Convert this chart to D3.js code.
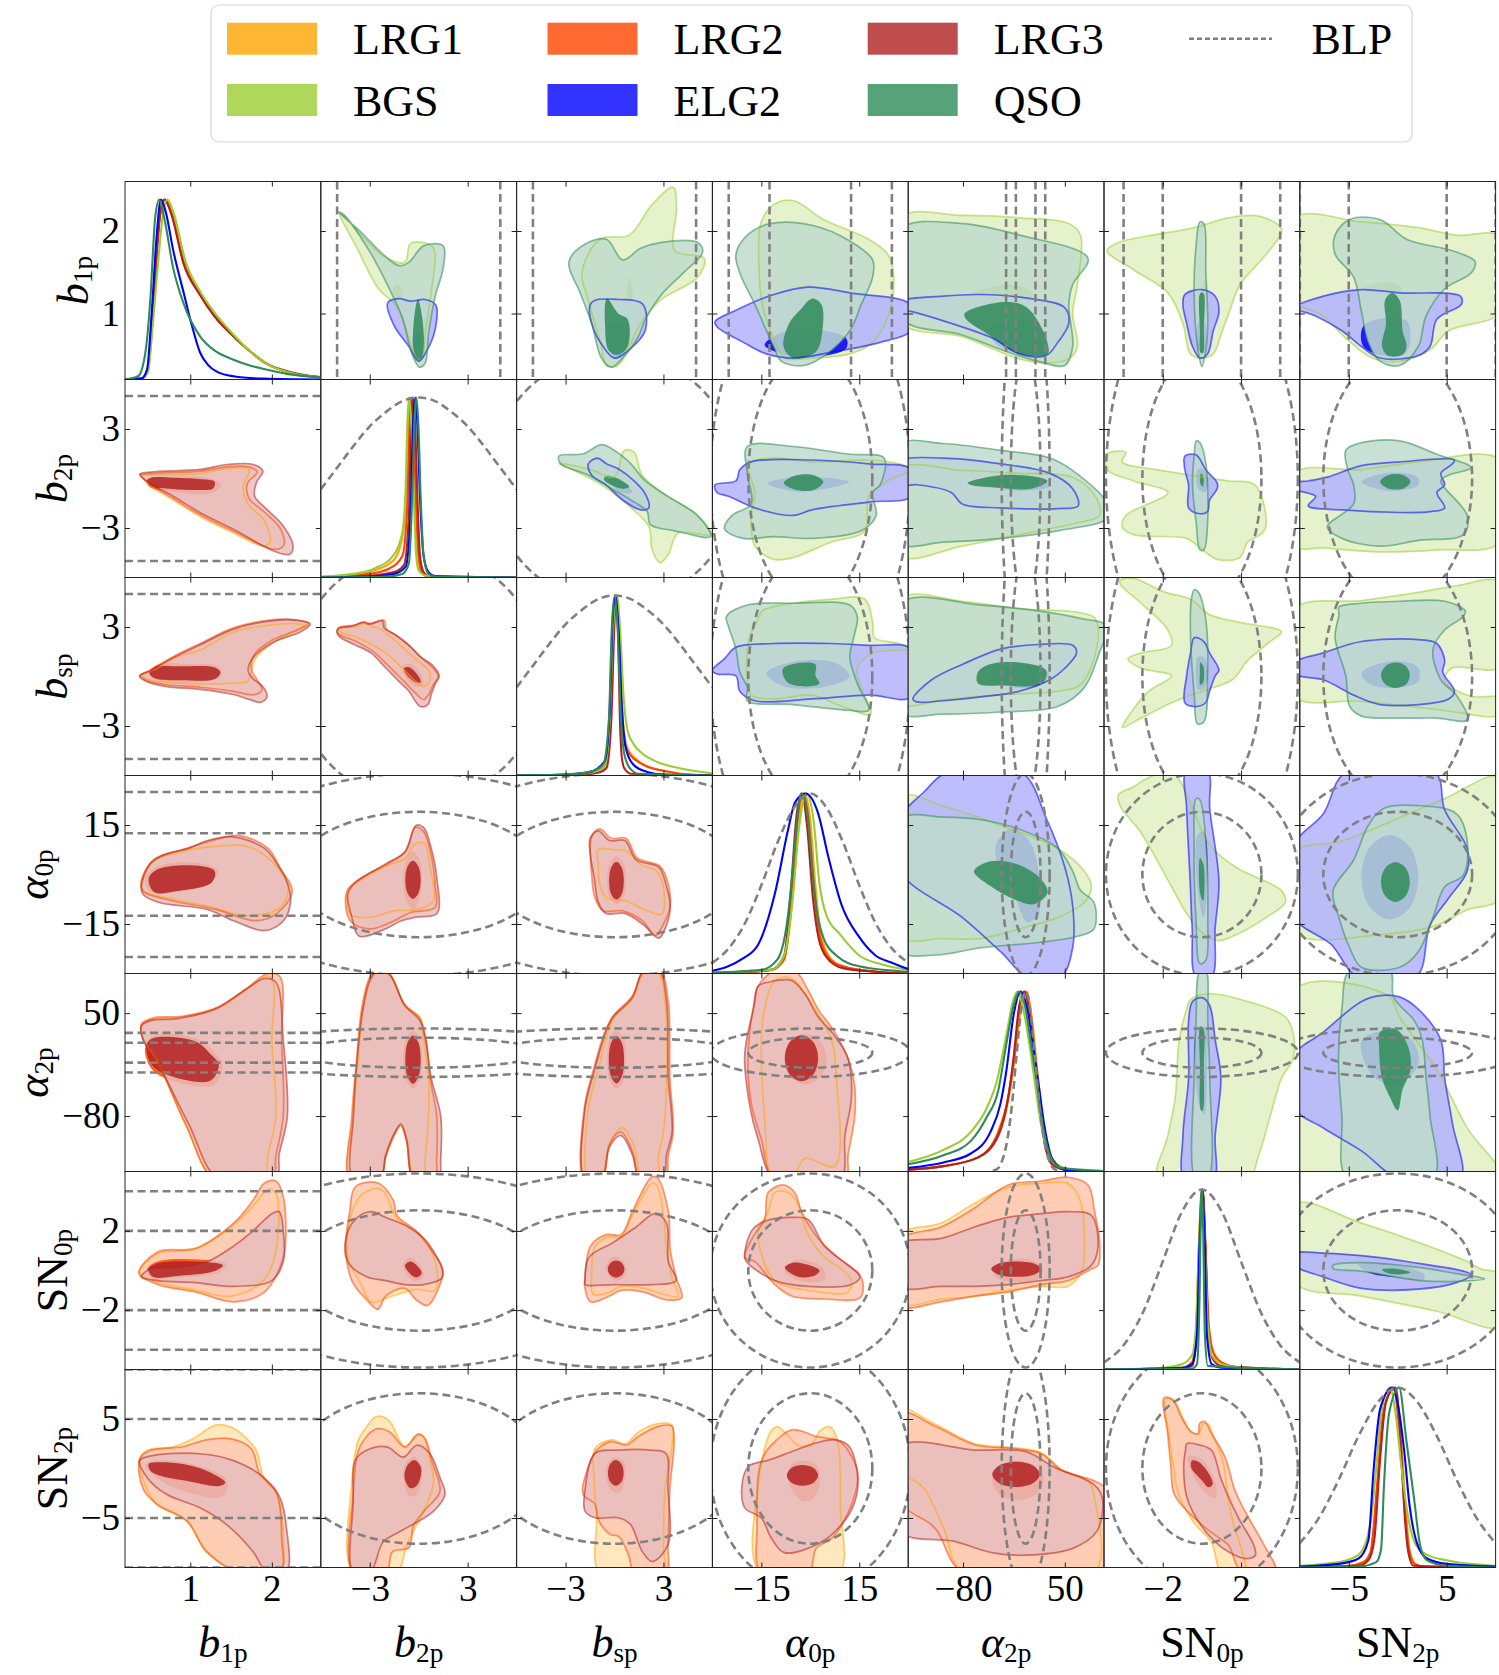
<!DOCTYPE html>
<html>
<head>
<meta charset="utf-8">
<title>BLP corner plot</title>
<script src="https://d3js.org/d3.v7.min.js"></script>
<style>
  body { margin: 0; background: #fff; }
  text { font-family: "Liberation Serif", "DejaVu Serif", serif; fill: #000; }
</style>
</head>
<body>
<svg id="corner" width="1499" height="1675"></svg>
<script>
// ---------- parameters, axes ----------
const params = ["b1p", "b2p", "bsp", "a0p", "a2p", "SN0p", "SN2p"];
const paramDomains = [[0.2, 2.6], [-6, 6], [-6, 6], [-30, 30], [-150, 100], [-5, 5], [-10, 10]];
const paramTicks = [[1, 2], [-3, 3], [-3, 3], [-15, 15], [-80, 50], [-2, 2], [-5, 5]];
const paramLabels = [
  {main: "b", italic: true, sub: "1p"}, {main: "b", italic: true, sub: "2p"}, {main: "b", italic: true, sub: "sp"},
  {main: "α", italic: true, sub: "0p"}, {main: "α", italic: true, sub: "2p"},
  {main: "SN", italic: false, sub: "0p"}, {main: "SN", italic: false, sub: "2p"}
];
// BLP prior (b1p is flat)
const priorMean = [null, 0, 0, 0, 0, 0, 0];
const priorSigma = [null, 5, 5, 12.5, 12.5, 2, 5];
const bandLevels = [1, 2];          // flat x gaussian: 68/95 bands in sigma
const ellipseLevels = [1.52, 2.45]; // gaussian x gaussian: 68/95 2D contours in sigma

const legendRow1 = ["LRG1", "LRG2", "LRG3", "BLP"];
const legendRow2 = ["BGS", "ELG2", "QSO"];

// ---------- 1D marginals (x, normalised density) ----------
const d_b1p = [
  {t: "LRG1", pts: [[0.2,0],[0.4,0.005],[0.47,0.05],[0.52,0.25],[0.57,0.6],[0.62,0.88],[0.7,1.0],[0.78,0.92],[0.92,0.66],[1.12,0.48],[1.3,0.36],[1.53,0.24],[1.75,0.15],[1.93,0.09],[2.2,0.04],[2.6,0.012]]},
  {t: "LRG2", pts: [[0.2,0],[0.4,0.005],[0.47,0.04],[0.53,0.3],[0.58,0.65],[0.63,0.92],[0.69,1.0],[0.77,0.92],[0.92,0.65],[1.12,0.47],[1.3,0.35],[1.53,0.24],[1.75,0.15],[1.93,0.09],[2.2,0.04],[2.6,0.012]]},
  {t: "LRG3", pts: [[0.2,0],[0.4,0.005],[0.48,0.05],[0.54,0.35],[0.59,0.7],[0.64,0.95],[0.68,1.0],[0.76,0.93],[0.92,0.64],[1.12,0.47],[1.3,0.35],[1.53,0.24],[1.75,0.15],[1.93,0.09],[2.2,0.045],[2.6,0.013]]},
  {t: "BGS", pts: [[0.2,0],[0.4,0.005],[0.48,0.04],[0.54,0.3],[0.6,0.62],[0.66,0.9],[0.72,1.0],[0.8,0.92],[0.94,0.66],[1.12,0.49],[1.3,0.37],[1.53,0.25],[1.75,0.15],[1.93,0.09],[2.2,0.04],[2.6,0.012]]},
  {t: "ELG2", pts: [[0.2,0],[0.4,0.005],[0.47,0.055],[0.53,0.39],[0.59,0.81],[0.64,1.0],[0.7,0.93],[0.79,0.72],[0.92,0.48],[1.02,0.3],[1.12,0.15],[1.22,0.08],[1.32,0.045],[1.53,0.018],[1.9,0.005],[2.6,0]]},
  {t: "QSO", pts: [[0.2,0],[0.36,0.018],[0.45,0.15],[0.51,0.44],[0.57,0.9],[0.62,1.0],[0.68,0.9],[0.79,0.62],[0.92,0.42],[1.12,0.24],[1.3,0.16],[1.53,0.11],[1.75,0.075],[1.93,0.055],[2.2,0.03],[2.6,0.012]]}
];
const d_b2p = [
  {t: "LRG1", pts: [[-6,0.002],[-4,0.01],[-2.7,0.04],[-1.5,0.1],[-0.95,0.25],[-0.75,0.5],[-0.62,0.85],[-0.52,1.0],[-0.38,0.85],[-0.22,0.45],[-0.05,0.12],[0.15,0.03],[0.6,0.005],[6,0]]},
  {t: "LRG2", pts: [[-6,0],[-3,0.02],[-1.8,0.05],[-1.0,0.12],[-0.7,0.4],[-0.55,0.85],[-0.45,1.0],[-0.32,0.85],[-0.18,0.45],[0,0.12],[0.2,0.03],[0.6,0.005],[6,0]]},
  {t: "LRG3", pts: [[-6,0],[-3,0.01],[-1.5,0.03],[-0.9,0.07],[-0.6,0.35],[-0.47,0.85],[-0.35,1.0],[-0.22,0.85],[-0.08,0.45],[0.08,0.12],[0.3,0.03],[0.7,0.005],[6,0]]},
  {t: "BGS", pts: [[-6,0.005],[-4,0.02],[-2.7,0.05],[-1.5,0.13],[-1.0,0.25],[-0.8,0.5],[-0.7,0.85],[-0.6,1.0],[-0.45,0.85],[-0.3,0.45],[-0.15,0.12],[0,0.04],[0.5,0.01],[6,0]]},
  {t: "ELG2", pts: [[-6,0],[-3,0.005],[-1.5,0.02],[-0.8,0.06],[-0.5,0.35],[-0.35,0.85],[-0.2,1.0],[-0.08,0.85],[0.08,0.45],[0.3,0.12],[0.6,0.03],[1,0.008],[6,0]]},
  {t: "QSO", pts: [[-6,0],[-2,0.005],[-1,0.02],[-0.6,0.08],[-0.38,0.5],[-0.25,0.9],[-0.14,1.0],[-0.02,0.85],[0.12,0.45],[0.3,0.12],[0.6,0.02],[1,0.005],[6,0]]}
];
const d_bsp = [
  {t: "LRG1", pts: [[-6,0],[-3,0.005],[-1.5,0.015],[-0.6,0.05],[-0.25,0.3],[-0.05,0.85],[0.12,1.0],[0.3,0.8],[0.45,0.4],[0.7,0.18],[1.0,0.12],[1.4,0.085],[2.0,0.05],[2.8,0.03],[4,0.01],[6,0]]},
  {t: "LRG2", pts: [[-6,0],[-3,0.005],[-1.5,0.015],[-0.6,0.05],[-0.25,0.3],[-0.05,0.85],[0.1,1.0],[0.28,0.8],[0.42,0.38],[0.65,0.17],[1.0,0.11],[1.4,0.08],[2.0,0.05],[2.8,0.03],[4,0.01],[6,0]]},
  {t: "LRG3", pts: [[-6,0],[-2,0.005],[-1,0.015],[-0.5,0.04],[-0.2,0.3],[0.0,0.85],[0.1,1.0],[0.22,0.8],[0.32,0.35],[0.45,0.1],[0.6,0.04],[1,0.01],[6,0]]},
  {t: "BGS", pts: [[-6,0],[-3,0.005],[-1.5,0.015],[-0.6,0.05],[-0.3,0.3],[-0.1,0.8],[0.15,1.0],[0.35,0.8],[0.55,0.45],[0.8,0.25],[1.2,0.17],[1.63,0.128],[2.5,0.08],[4,0.04],[6,0.012]]},
  {t: "ELG2", pts: [[-6,0],[-3,0.005],[-1.5,0.02],[-0.6,0.08],[-0.3,0.35],[-0.12,0.85],[0.05,1.0],[0.25,0.8],[0.45,0.38],[0.7,0.15],[1.16,0.06],[2,0.02],[3,0.005],[6,0]]},
  {t: "QSO", pts: [[-6,0],[-3,0.005],[-1.5,0.02],[-0.7,0.06],[-0.35,0.3],[-0.15,0.85],[0.02,1.0],[0.2,0.8],[0.38,0.35],[0.6,0.12],[0.95,0.04],[1.5,0.01],[6,0]]}
];
const d_a0p = [
  {t: "LRG1", pts: [[-30,0],[-12,0.02],[-8,0.08],[-5.5,0.4],[-3.5,0.85],[-1.8,1.0],[0,0.85],[1.5,0.5],[3,0.25],[6,0.09],[10,0.04],[20,0.01],[30,0]]},
  {t: "LRG2", pts: [[-30,0],[-12,0.02],[-8,0.08],[-5.5,0.45],[-3.8,0.88],[-2.2,1.0],[-0.5,0.85],[1.2,0.45],[2.8,0.22],[6,0.08],[10,0.04],[20,0.01],[30,0]]},
  {t: "LRG3", pts: [[-30,0],[-12,0.02],[-8,0.1],[-6,0.45],[-4.2,0.88],[-2.6,1.0],[-1,0.82],[0.8,0.42],[2.5,0.2],[5,0.09],[10,0.03],[20,0.01],[30,0]]},
  {t: "BGS", pts: [[-30,0.005],[-12,0.02],[-8,0.1],[-5.5,0.4],[-3.5,0.8],[-1.2,1.0],[1,0.85],[2.8,0.5],[5,0.32],[9,0.22],[15,0.1],[22,0.05],[30,0.02]]},
  {t: "ELG2", pts: [[-30,0.015],[-21,0.08],[-16,0.16],[-10.9,0.44],[-6.8,0.8],[-4.7,0.95],[-1.5,1.0],[2.4,0.89],[5.5,0.65],[9.6,0.38],[14.7,0.21],[20,0.1],[25,0.06],[30,0.025]]},
  {t: "QSO", pts: [[-30,0.005],[-15,0.02],[-10,0.08],[-7,0.3],[-5.5,0.55],[-4,0.85],[-2.8,1.0],[-1,0.9],[0.5,0.6],[2,0.35],[4,0.2],[8,0.1],[15,0.04],[30,0.01]]}
];
const d_a2p = [
  {t: "LRG1", pts: [[-150,0.01],[-105,0.03],[-60,0.08],[-35,0.2],[-22,0.4],[-15,0.6],[-7,0.88],[1,1.0],[8,0.85],[14,0.6],[20,0.35],[28,0.12],[38,0.03],[60,0.005],[100,0]]},
  {t: "LRG2", pts: [[-150,0.01],[-105,0.03],[-60,0.08],[-35,0.22],[-22,0.42],[-15,0.62],[-8,0.9],[-1,1.0],[6,0.87],[13,0.6],[19,0.35],[27,0.12],[37,0.03],[60,0.005],[100,0]]},
  {t: "LRG3", pts: [[-150,0.01],[-105,0.03],[-60,0.08],[-35,0.2],[-22,0.42],[-15,0.65],[-9,0.9],[-2,1.0],[5,0.87],[12,0.6],[18,0.35],[26,0.12],[36,0.03],[60,0.005],[100,0]]},
  {t: "BGS", pts: [[-150,0.053],[-105,0.12],[-70,0.22],[-50,0.35],[-37,0.5],[-25,0.75],[-16,0.95],[-10.5,1.0],[-3,0.9],[5,0.7],[11.5,0.5],[20,0.25],[30,0.1],[40,0.04],[60,0.01],[100,0.003]]},
  {t: "ELG2", pts: [[-150,0.02],[-105,0.05],[-70,0.1],[-45,0.22],[-32,0.38],[-25,0.55],[-15,0.88],[-6.6,1.0],[3,0.88],[10,0.68],[16,0.5],[24,0.25],[34,0.07],[50,0.01],[100,0]]},
  {t: "QSO", pts: [[-150,0.04],[-105,0.09],[-70,0.17],[-50,0.3],[-35,0.45],[-25,0.7],[-15,0.93],[-8.5,1.0],[0,0.9],[7,0.7],[14,0.5],[22,0.25],[32,0.08],[45,0.02],[100,0.003]]}
];
const d_SN0p = [
  {t: "LRG1", pts: [[-5,0],[-1,0.01],[-0.5,0.04],[-0.3,0.2],[-0.15,0.7],[0,1.0],[0.15,0.75],[0.3,0.3],[0.5,0.12],[1,0.04],[2,0.01],[5,0]]},
  {t: "LRG2", pts: [[-5,0],[-1,0.01],[-0.5,0.04],[-0.3,0.2],[-0.12,0.75],[0.03,1.0],[0.18,0.7],[0.35,0.25],[0.6,0.09],[1,0.04],[2,0.01],[5,0]]},
  {t: "LRG3", pts: [[-5,0],[-1,0.005],[-0.5,0.02],[-0.25,0.2],[-0.1,0.75],[0.05,1.0],[0.2,0.6],[0.35,0.15],[0.6,0.05],[1,0.02],[5,0]]},
  {t: "BGS", pts: [[-5,0],[-2,0.01],[-1,0.03],[-0.5,0.08],[-0.3,0.25],[-0.15,0.7],[0,1.0],[0.15,0.7],[0.3,0.25],[0.5,0.08],[1,0.03],[2,0.01],[5,0]]},
  {t: "ELG2", pts: [[-5,0],[-1,0.01],[-0.5,0.03],[-0.25,0.2],[-0.12,0.7],[0.02,1.0],[0.15,0.7],[0.25,0.2],[0.5,0.03],[1,0.01],[5,0]]},
  {t: "QSO", pts: [[-5,0],[-0.5,0.005],[-0.25,0.03],[-0.12,0.4],[-0.04,0.95],[0.0,1.0],[0.06,0.8],[0.15,0.2],[0.3,0.02],[5,0]]}
];
const d_SN2p = [
  {t: "LRG1", pts: [[-10,0],[-5,0.01],[-3.5,0.03],[-2.7,0.1],[-2.0,0.5],[-1.3,0.9],[-0.3,1.0],[0.3,0.75],[0.8,0.35],[1.2,0.1],[1.8,0.02],[3,0],[10,0]]},
  {t: "LRG2", pts: [[-10,0],[-5,0.01],[-3.5,0.03],[-2.8,0.08],[-2.1,0.46],[-1.5,0.85],[-0.45,1.0],[0.1,0.8],[0.66,0.37],[1.1,0.12],[1.7,0.02],[3,0],[10,0]]},
  {t: "LRG3", pts: [[-10,0],[-4,0.01],[-3,0.04],[-2.4,0.15],[-1.8,0.6],[-1.2,0.92],[-0.2,1.0],[0.3,0.7],[0.7,0.3],[1.1,0.08],[1.6,0.01],[10,0]]},
  {t: "BGS", pts: [[-10,0.01],[-6,0.03],[-4,0.07],[-2.8,0.24],[-2.2,0.55],[-1.7,0.85],[-0.8,1.0],[-0.2,0.85],[0.4,0.55],[1,0.3],[1.8,0.13],[3,0.07],[5,0.04],[10,0.01]]},
  {t: "ELG2", pts: [[-10,0.005],[-6,0.02],[-4,0.05],[-3,0.15],[-2.45,0.55],[-1.8,0.88],[-0.55,1.0],[0.1,0.88],[0.66,0.65],[1.2,0.35],[2,0.13],[3,0.05],[5,0.02],[10,0.005]]},
  {t: "QSO", pts: [[-10,0],[-4,0.005],[-2.2,0.03],[-1.7,0.1],[-1.4,0.46],[-0.9,0.85],[0.14,1.0],[0.9,0.7],[1.7,0.37],[2.3,0.12],[3,0.04],[5,0.01],[10,0]]}
];
// BLP prior marginals
const prior_b2p = [[-6,0.49],[-5,0.61],[-4,0.73],[-3,0.84],[-2,0.92],[-1,0.98],[0,1.0],[1,0.98],[2,0.92],[3,0.84],[4,0.73],[5,0.61],[6,0.49]];
const prior_bsp = [[-6,0.49],[-5,0.61],[-4,0.73],[-3,0.84],[-2,0.92],[-1,0.98],[0,1.0],[1,0.98],[2,0.92],[3,0.84],[4,0.73],[5,0.61],[6,0.49]];
const prior_a0p = [[-30,0.06],[-25,0.14],[-20,0.28],[-15,0.49],[-10,0.73],[-5,0.92],[0,1.0],[5,0.92],[10,0.73],[15,0.49],[20,0.28],[25,0.14],[30,0.06]];
const prior_a2p = [[-42,0.005],[-36,0.015],[-31,0.05],[-25,0.14],[-18,0.35],[-12,0.63],[-6,0.89],[0,1.0],[6,0.89],[12,0.63],[18,0.35],[25,0.14],[31,0.05],[36,0.015],[42,0.005]];
const prior_SN0p = [[-5,0.04],[-4,0.135],[-3,0.32],[-2,0.6],[-1,0.88],[0,1.0],[1,0.88],[2,0.6],[3,0.32],[4,0.135],[5,0.04]];
const prior_SN2p = [[-10,0.135],[-8,0.28],[-6,0.49],[-4,0.73],[-2,0.92],[0,1.0],[2,0.92],[4,0.73],[6,0.49],[8,0.28],[10,0.135]];

// ---------- 2D contours, lower triangle (LRG), [x, y] in parameter units ----------
const lo_b2p_b1p = [
  {t: "LRG1", outer: [[0.4,0.2],[0.55,0.2],[1.12,0.3],[1.45,0.6],[1.72,0.55],[1.65,-0.5],[1.7,-1.5],[1.9,-2.5],[1.98,-3.8],[1.9,-4.1],[1.53,-3.3],[1.12,-2.3],[0.79,-1.3],[0.5,-0.4]], inner: null},
  {t: "LRG2", outer: [[0.39,0.22],[0.52,0.3],[1.12,0.45],[1.45,0.7],[1.7,0.72],[1.82,0.4],[1.7,-0.3],[1.72,-1.2],[1.9,-2.0],[2.1,-3.0],[2.15,-4.0],[2.05,-4.3],[1.53,-3.2],[1.12,-2.2],[0.79,-1.2],[0.51,-0.35]],
   inner: [[0.47,-0.05],[0.8,0.1],[1.25,0.0],[1.38,-0.4],[1.25,-0.9],[0.8,-0.8],[0.5,-0.5]]},
  {t: "LRG3", outer: [[0.38,0.25],[0.51,0.39],[1.12,0.55],[1.45,0.85],[1.77,0.85],[1.89,0.45],[1.81,-0.25],[1.79,-1.07],[1.94,-1.87],[2.14,-2.88],[2.26,-4.09],[2.22,-4.59],[2.02,-4.39],[1.53,-3.08],[1.12,-2.07],[0.79,-1.07],[0.51,-0.3]],
   inner: [[0.47,-0.1],[0.52,0.05],[0.8,0.05],[1.15,-0.05],[1.3,-0.2],[1.28,-0.6],[1.1,-0.7],[0.7,-0.6],[0.5,-0.45]]}
];
const lo_bsp_b1p = [
  {t: "LRG1", outer: [[0.4,0.1],[0.55,0.4],[0.85,1.2],[1.12,1.6],[1.53,2.7],[1.94,3.1],[2.3,3.2],[2.4,3.1],[2.0,2.0],[1.8,1.1],[1.75,0.3],[1.7,-0.3],[1.53,-0.4],[1.12,-0.45],[0.71,-0.35],[0.47,-0.15]], inner: null},
  {t: "LRG2", outer: [[0.38,0.05],[0.51,0.4],[0.79,1.2],[1.12,2.0],[1.53,2.95],[1.94,3.4],[2.26,3.45],[2.45,3.2],[2.3,2.8],[2.0,2.2],[1.78,1.3],[1.75,0.4],[1.82,-0.2],[1.88,-0.8],[1.78,-1.1],[1.53,-0.9],[1.12,-0.65],[0.71,-0.5],[0.47,-0.25]],
   inner: [[0.5,0.2],[0.6,0.7],[1.0,0.75],[1.35,0.6],[1.38,0.0],[1.1,-0.35],[0.6,-0.2]]},
  {t: "LRG3", outer: [[0.38,0.02],[0.51,0.34],[0.79,1.13],[1.12,1.92],[1.53,2.87],[1.94,3.34],[2.26,3.43],[2.47,3.18],[2.35,2.7],[2.02,2.08],[1.77,1.13],[1.71,0.34],[1.77,-0.14],[1.89,-0.61],[1.94,-1.25],[1.86,-1.57],[1.73,-1.4],[1.53,-1.09],[1.12,-0.78],[0.71,-0.61],[0.47,-0.32]],
   inner: [[0.5,0.2],[0.56,0.55],[0.9,0.62],[1.3,0.55],[1.37,0.25],[1.3,-0.15],[0.9,-0.22],[0.56,-0.1]]}
];
const lo_bsp_b2p = [
  {t: "LRG1", outer: [[-4.9,2.85],[-4.6,2.95],[-3.9,3.0],[-3.3,3.2],[-2.9,3.05],[-2.4,2.9],[-1.7,2.4],[-0.8,1.6],[0.0,0.9],[0.5,0.5],[0.7,0.2],[0.6,-0.4],[0.3,-0.6],[-0.3,-0.2],[-1.0,0.5],[-2.0,1.4],[-3.0,2.0],[-4.0,2.45],[-4.7,2.65]], inner: null},
  {t: "LRG2", outer: [[-5.0,2.8],[-4.8,3.0],[-4.0,3.1],[-3.3,3.3],[-2.9,3.2],[-2.1,3.4],[-2.0,2.9],[-1.4,2.5],[-0.5,1.8],[0.2,1.1],[0.8,0.6],[1.2,0.0],[0.9,-0.5],[0.6,-1.1],[0.3,-1.4],[-0.2,-1.0],[-0.9,-0.3],[-1.8,0.6],[-2.9,1.6],[-4.0,2.2],[-4.8,2.5]],
   inner: [[-1.0,0.6],[-0.4,0.75],[0.15,0.1],[0.25,-0.55],[-0.2,-0.6],[-0.8,-0.05]]},
  {t: "LRG3", outer: [[-5.02,2.7],[-4.9,2.94],[-4.09,3.05],[-3.4,3.29],[-3.05,3.17],[-2.23,3.4],[-2.12,2.94],[-1.53,2.59],[-0.6,1.9],[0.1,1.2],[0.79,0.73],[1.26,0.04],[1.02,-0.43],[0.79,-1.01],[0.56,-1.7],[0.1,-1.82],[-0.6,-0.89],[-1.07,-0.43],[-2.0,0.5],[-2.93,1.43],[-3.86,1.9],[-4.79,2.35]],
   inner: [[-0.9,0.5],[-0.55,0.55],[0.0,0.0],[0.12,-0.35],[-0.2,-0.35],[-0.75,0.1]]}
];
const lo_a0p_b1p = [
  {t: "LRG1", outer: [[0.4,-2],[0.55,4],[0.9,7],[1.3,8.5],[1.7,8.5],[2.0,4],[2.2,-4],[2.1,-10],[1.7,-12.5],[1.2,-9.5],[0.7,-7],[0.42,-5]], inner: null},
  {t: "LRG2", outer: [[0.4,-2],[0.55,4.5],[0.9,7.5],[1.3,10.5],[1.6,11.8],[1.95,8],[2.1,2],[2.25,-5],[2.05,-12],[1.8,-14],[1.3,-10.5],[0.7,-7.5],[0.42,-5]],
   inner: [[0.45,-1],[0.6,2.5],[1.1,3.5],[1.35,1],[1.2,-3],[0.8,-5.5],[0.5,-5]]},
  {t: "LRG3", outer: [[0.4,-3.7],[0.51,3.3],[0.7,6.2],[0.98,7.9],[1.21,10.3],[1.53,11.4],[1.91,7.9],[2.09,2.2],[2.19,-2.5],[2.23,-8.3],[2.14,-14.1],[1.91,-17],[1.53,-14],[1.21,-10.6],[0.62,-8.5],[0.42,-6]],
   inner: [[0.49,-1.3],[0.6,1.6],[1.07,2.7],[1.3,1.0],[1.26,-2.5],[0.84,-5],[0.56,-5.4]]}
];
const lo_a0p_b2p = [
  {t: "LRG1", outer: [[-4.3,-5],[-3.5,-1.5],[-2,2.5],[-0.8,5],[-0.3,9],[0.35,9.5],[0.7,2],[0.9,-8],[0.0,-10.5],[-1.5,-11],[-3,-13],[-4.2,-12]], inner: null},
  {t: "LRG2", outer: [[-4.4,-5],[-3.5,-1],[-1.8,3.5],[-0.8,7],[-0.2,14.3],[0.3,13],[0.8,5],[1.0,-3],[1.0,-10],[-0.5,-11.5],[-1.5,-14],[-3.0,-16.5],[-4.2,-14]],
   inner: [[-0.95,-2],[-0.75,4.5],[-0.35,7],[0.05,4.5],[0.2,-2],[0.0,-8],[-0.35,-10.5],[-0.75,-8]]},
  {t: "LRG3", outer: [[-4.35,-6],[-3.9,-2.5],[-2,3.3],[-0.86,6.8],[-0.16,14.9],[0.3,14.3],[0.77,7.9],[1.12,-1.3],[1.12,-11.8],[-0.16,-12.9],[-1.1,-14.1],[-2,-16.4],[-3.65,-18.7],[-4.1,-12.9]],
   inner: [[-0.82,-1.6],[-0.68,2.5],[-0.35,4.2],[-0.02,2.5],[0.12,-1.6],[-0.02,-5.7],[-0.35,-7.4],[-0.68,-5.7]]}
];
const lo_a0p_bsp = [
  {t: "LRG1", outer: [[-1.0,3],[-1.0,7.5],[0,7.5],[0.8,7],[1.6,3],[2.6,1],[3.0,-4],[2.9,-12],[2.0,-11],[0.7,-8],[-0.5,-7],[-0.9,-3]], inner: null},
  {t: "LRG2", outer: [[-1.4,0],[-1.4,11.5],[-0.9,13.8],[-0.2,11],[0.7,11],[1.4,5],[2.8,2.5],[3.3,-3],[3.4,-10],[3.0,-15],[2.5,-18.5],[1.7,-14],[0.5,-11],[-0.7,-11],[-1.2,-7]],
   inner: [[-0.45,-2],[-0.3,3.5],[0.12,5.5],[0.55,3.5],[0.7,-2],[0.55,-7],[0.12,-9],[-0.3,-7]]},
  {t: "LRG3", outer: [[-1.47,5.6],[-1.5,10.9],[-1.0,13.2],[-0.3,10.3],[0.63,10.3],[1.33,4.5],[2.72,2.2],[3.19,-3.7],[3.42,-9.5],[3.19,-15.3],[2.72,-19.3],[1.79,-15.3],[0.63,-11.8],[-0.53,-11.8],[-1.0,-8.3],[-1.23,-1.3]],
   inner: [[-0.33,-1.9],[-0.2,2.2],[0.12,3.9],[0.44,2.2],[0.57,-1.9],[0.44,-6],[0.12,-7.7],[-0.2,-6]]}
];
const lo_a2p_b1p = [
  {t: "LRG1", outer: [[0.42,18],[0.4,35],[0.55,42],[0.9,45],[1.35,56],[1.7,80],[1.95,97],[2.02,88],[2.0,16],[2.05,-80],[1.95,-130],[1.9,-160],[1.3,-160],[0.95,-92],[0.6,-12]], inner: null},
  {t: "LRG2", outer: [[0.42,18],[0.4,36],[0.55,44],[0.9,46],[1.35,58],[1.7,82],[1.95,100],[2.1,96],[2.12,16],[2.14,-80],[2.05,-130],[2.0,-160],[1.3,-160],[0.95,-92],[0.6,-12]],
   inner: [[0.45,8],[0.56,22],[1.1,17],[1.32,-2],[1.4,-16],[1.3,-40],[1.05,-42],[0.58,-26],[0.47,-10]]},
  {t: "LRG3", outer: [[0.42,16.3],[0.4,33.3],[0.51,40.5],[0.84,43],[1.3,55],[1.67,79.2],[1.91,93.7],[2.05,88.9],[2.14,16.3],[2.19,-80],[2.09,-128.7],[2.05,-160],[1.35,-160],[0.98,-90],[0.6,-12.7]],
   inner: [[0.47,11.5],[0.56,18.8],[1.07,13.9],[1.26,-3],[1.35,-15.1],[1.26,-34.5],[1.07,-36.8],[0.6,-22.3],[0.49,-8]]}
];
const lo_a2p_b2p = [
  {t: "LRG1", outer: [[-4.2,-160],[-4.0,-80],[-3.7,-8],[-3.4,55],[-2.9,93],[-2.4,104],[-1.7,97],[-0.8,58],[0.1,44],[0.3,16],[0.6,-32],[0.6,-80],[0.4,-135],[0.3,-160],[-0.3,-160],[-0.7,-112],[-1.1,-90],[-1.45,-102],[-2.0,-130],[-2.4,-160]], inner: null},
  {t: "LRG2", outer: [[-4.2,-160],[-4.1,-80],[-3.8,-8],[-3.5,55],[-3.0,95],[-2.5,104],[-1.8,100],[-0.9,62],[0.05,44],[0.45,16],[0.7,-32],[1.1,-80],[1.1,-135],[1.0,-160],[-0.3,-160],[-0.75,-112],[-1.1,-92],[-1.45,-102],[-2.0,-130],[-2.4,-160]],
   inner: [[-0.95,-8],[-0.75,18],[-0.35,28],[0.05,18],[0.2,-8],[0.05,-35],[-0.35,-45],[-0.75,-35]]},
  {t: "LRG3", outer: [[-4.0,-160],[-4.0,-80],[-3.77,-7.8],[-3.42,55],[-2.95,93.7],[-2.49,104],[-1.79,98.5],[-0.86,59.9],[0.07,40.5],[0.42,16.3],[0.77,-32],[1.35,-80],[1.35,-133.6],[1.2,-160],[-0.28,-160],[-0.74,-109.4],[-1.09,-90],[-1.44,-99.7],[-2.02,-128.7],[-2.37,-160]],
   inner: [[-0.82,-8.8],[-0.68,12.8],[-0.35,21.7],[-0.02,12.8],[0.12,-8.8],[-0.02,-30.4],[-0.35,-39.3],[-0.68,-30.4]]}
];
const lo_a2p_bsp = [
  {t: "LRG1", outer: [[-1.6,-160],[-1.6,-70],[-1.0,-22],[-0.4,26],[0.0,45],[1.1,68],[1.8,100],[2.7,100],[3.1,64],[3.2,-32],[3.0,-100],[2.7,-130],[2.6,-160],[1.7,-160],[1.2,-118],[0.5,-95],[-0.2,-110],[-0.9,-160]], inner: null},
  {t: "LRG2", outer: [[-1.85,-160],[-1.85,-70],[-1.3,-22],[-0.6,26],[-0.1,46],[1.1,72],[1.8,104],[2.8,104],[3.3,64],[3.4,-32],[3.6,-100],[3.3,-130],[3.1,-160],[1.6,-160],[1.1,-125],[0.4,-100],[-0.3,-115],[-0.8,-160]],
   inner: [[-0.45,-8],[-0.3,18],[0.12,28],[0.55,18],[0.7,-8],[0.55,-35],[0.12,-45],[-0.3,-35]]},
  {t: "LRG3", outer: [[-1.81,-160],[-1.81,-70.7],[-1.23,-22.3],[-0.53,26],[-0.07,45.3],[1.09,69.5],[1.79,104],[2.72,104],[3.19,64.7],[3.3,-32],[3.53,-99.7],[3.19,-128.7],[2.95,-160],[1.56,-160],[1.09,-128.7],[0.4,-104.6],[-0.3,-119],[-0.77,-160]],
   inner: [[-0.35,-8.8],[-0.21,12.4],[0.12,21.2],[0.45,12.4],[0.59,-8.8],[0.45,-30],[0.12,-38.8],[-0.21,-30]]}
];
const lo_a2p_a0p = [
  {t: "LRG1", outer: [[-15,16.3],[-14,55],[-10.9,91.3],[-5.8,93.7],[1.4,55],[6.5,16.3],[8.0,-32],[7.5,-143],[-1.7,-133.6],[-5.8,-160],[-11.4,-160],[-14,-80.3]], inner: null},
  {t: "LRG2", outer: [[-17,64.7],[-16,84],[-10.9,104],[-4.8,104],[-0.7,79.2],[2.4,55],[7.5,26],[11.6,-7.8],[13.6,-41.7],[13.6,-80.3],[11.6,-128.7],[10.6,-160],[-10.9,-160],[-15,-109.4],[-18,-65.8],[-19.1,-22.3],[-18.6,26]],
   inner: [[-8,-8],[-6.1,14.6],[-1.5,24],[3.1,14.6],[5,-8],[3.1,-30.6],[-1.5,-40],[-6.1,-30.6]]},
  {t: "LRG3", outer: [[-17.5,55],[-16,84],[-12.9,89],[-5.8,91.3],[-1.7,74.4],[2.4,45.3],[7.5,21.2],[11.6,-7.8],[12.6,-56.2],[10.6,-104.6],[9.1,-160],[-10.9,-160],[-16,-109.4],[-18.6,-65.8],[-20.1,-3]],
   inner: [[-7.8,-6.9],[-6.3,13.6],[-2.7,22.1],[0.9,13.6],[2.4,-6.9],[0.9,-27.4],[-2.7,-35.9],[-6.3,-27.4]]}
];
const lo_SN0p_b1p = [
  {t: "LRG1", outer: [[0.38,-0.1],[0.6,0.85],[1.07,1.1],[1.53,2.3],[1.8,3.4],[1.95,4.1],[2.05,3.9],[2.05,1.0],[1.9,-0.5],[1.5,-1.3],[1.07,-1.0],[0.6,-0.6]], inner: null},
  {t: "LRG2", outer: [[0.37,-0.13],[0.6,0.94],[1.07,1.13],[1.53,2.39],[1.77,3.55],[1.91,4.42],[2.05,4.52],[2.14,3.74],[2.16,1.03],[2.09,0.07],[1.91,-1.09],[1.53,-1.58],[1.07,-1.09],[0.6,-0.71]],
   inner: [[0.47,0.05],[0.6,0.45],[1.1,0.55],[1.45,0.3],[1.35,-0.1],[0.84,-0.38],[0.52,-0.4]]},
  {t: "LRG3", outer: [[0.4,-0.32],[0.51,0.07],[0.84,0.16],[1.21,0.45],[1.53,1.23],[1.77,2.0],[2.0,2.87],[2.09,2.97],[2.14,2.0],[2.14,0.45],[2.0,-0.51],[1.53,-0.8],[1.07,-0.61],[0.6,-0.51]],
   inner: [[0.49,0.07],[0.6,0.36],[1.07,0.45],[1.4,0.26],[1.3,-0.03],[0.84,-0.28],[0.54,-0.32]]}
];
const lo_SN0p_b2p = [
  {t: "LRG1", outer: [[-3.4,3.9],[-2.3,4.1],[-1.3,2.6],[0.1,1.8],[1.0,0.5],[1.0,-1.0],[-0.16,-0.95],[-2.0,-1.4],[-2.9,-1.6],[-3.6,-0.6],[-4.35,0.7],[-4.1,2.9]], inner: null},
  {t: "LRG2", outer: [[-3.88,4.23],[-2.49,4.42],[-1.56,3.55],[-1.33,2.78],[-0.16,2.0],[0.77,1.03],[1.47,0.07],[1.12,-1.09],[0.54,-1.77],[-0.16,-1.48],[-0.86,-0.9],[-2.02,-1.29],[-2.49,-1.96],[-3.19,-1.48],[-4.1,-0.51],[-4.47,1.23],[-4.23,2.97]],
   inner: [[-0.95,0.35],[-0.5,0.65],[0.05,0.3],[0.3,-0.25],[-0.15,-0.55],[-0.75,-0.2]]},
  {t: "LRG3", outer: [[-3.88,2.58],[-2.95,2.97],[-2.02,2.68],[-0.63,2.2],[0.54,1.42],[1.47,-0.32],[0.3,-0.71],[-0.86,-0.71],[-2.02,-0.51],[-3.19,-0.32],[-4.35,0.45],[-4.47,1.61]],
   inner: [[-0.84,0.25],[-0.5,0.45],[-0.05,0.2],[0.18,-0.15],[-0.15,-0.35],[-0.6,-0.1]]}
];
const lo_SN0p_bsp = [
  {t: "LRG1", outer: [[-1.4,-0.3],[-1.2,1.2],[-0.4,1.7],[0.4,1.7],[1.1,2.8],[2.3,4.4],[2.6,4.3],[3.0,2.8],[3.2,1.0],[3.5,-0.3],[3.9,-1.3],[3.0,-1.2],[1.8,-0.9],[0.4,-0.8],[-0.3,-1.1],[-1.3,-1.2]], inner: null},
  {t: "LRG2", outer: [[-1.81,-0.32],[-1.47,1.23],[-0.53,1.81],[0.4,1.81],[1.09,2.97],[2.26,4.71],[2.6,4.71],[3.3,2.97],[3.42,1.03],[3.77,-0.32],[4.12,-1.38],[3.19,-1.48],[1.79,-1.09],[0.4,-1.0],[-0.3,-1.29],[-1.47,-1.58],[-1.81,-0.9]],
   inner: [[-0.55,0.1],[-0.3,0.55],[0.1,0.7],[0.55,0.45],[0.75,0.0],[0.5,-0.4],[0.0,-0.5]]},
  {t: "LRG3", outer: [[-1.81,-0.51],[-1.58,0.65],[-0.07,1.42],[1.33,2.2],[2.49,2.87],[3.19,2.39],[3.3,0.45],[3.77,-0.51],[2.26,-0.71],[-0.07,-0.71],[-1.81,-0.71]],
   inner: [[-0.41,0.07],[-0.26,0.37],[0.1,0.5],[0.46,0.37],[0.61,0.07],[0.46,-0.23],[0.1,-0.36],[-0.26,-0.23]]}
];
const lo_SN0p_a0p = [
  {t: "LRG1", outer: [[-16,2.0],[-12.9,2.97],[-10.9,3.94],[-6.8,3.94],[-3.7,3.36],[-0.7,1.81],[4.4,0.65],[9.6,0.07],[12.6,-0.51],[11.6,-1.09],[-0.7,-1.0],[-10.9,-0.51],[-15,0.84]], inner: null},
  {t: "LRG2", outer: [[-14,2.58],[-12.9,3.94],[-8.3,4.32],[-4.8,3.94],[-2.7,2.97],[2.4,1.62],[8.5,0.65],[14.7,-0.13],[16.2,-0.71],[15.2,-1.38],[4.4,-1.44],[-5.8,-1.29],[-10.9,-0.71],[-17,0.45],[-20.1,0.65],[-17.5,1.71]],
   inner: [[-8,0.0],[-5,0.5],[-1,0.5],[4,0.1],[4.5,-0.45],[0,-0.6],[-5,-0.4]]},
  {t: "LRG3", outer: [[-20.1,0.65],[-18,2.0],[-14,2.49],[-5.8,2.68],[-0.7,2.58],[4.4,1.23],[11.6,0.26],[15.2,-0.32],[12.6,-0.71],[-0.7,-0.8],[-10.9,-0.51],[-19.1,0.36]],
   inner: [[-7.8,0.15],[-5,0.4],[-1,0.3],[2.8,0.0],[1,-0.28],[-4,-0.3]]}
];
const lo_SN0p_a2p = [
  {t: "LRG1", outer: [[-160,1.8],[-107.8,2.4],[-65.2,3.4],[-22.6,4.2],[20,4.4],[54,4.4],[70,3.5],[75,1.0],[72,0.0],[54,-0.8],[20,-0.8],[-22.6,-1.0],[-65,-1.3],[-108,-1.45],[-160,-1.65]], inner: null},
  {t: "LRG2", outer: [[-160,1.52],[-107.8,2.2],[-65.2,3.16],[-22.6,4.32],[20,4.52],[54,4.71],[79.6,4.32],[88,2.97],[94.5,1.42],[92.4,0.26],[83.8,0.07],[54,-0.51],[20,-0.71],[-22.6,-1.09],[-65.2,-1.29],[-107.8,-1.58],[-160,-1.77]],
   inner: [[-42,0.0],[-25,0.5],[5,0.55],[22,0.1],[15,-0.45],[-15,-0.6],[-38,-0.35]]},
  {t: "LRG3", outer: [[-160,1.32],[-107.8,1.62],[-65.2,2.2],[-22.6,2.68],[20,2.87],[54,2.97],[83.8,2.78],[92.4,1.23],[83.8,0.26],[54,-0.32],[20,-0.51],[-22.6,-0.71],[-65.2,-0.8],[-107.8,-0.8],[-160,-0.8]],
   inner: [[-44,0.07],[-34.6,0.35],[-12,0.46],[10.6,0.35],[20,0.07],[10.6,-0.21],[-12,-0.32],[-34.6,-0.21]]}
];
const lo_SN2p_b1p = [
  {t: "LRG1", outer: [[0.38,0.8],[0.47,1.84],[0.79,2.18],[1.04,3.04],[1.32,4.4],[1.53,4.06],[1.69,3.04],[1.81,1.84],[1.9,-0.9],[2.06,-2.61],[2.14,-7.05],[2.1,-10.5],[1.6,-10.5],[1.2,-8.4],[0.96,-5.35],[0.59,-3.63],[0.45,-1.7]], inner: null},
  {t: "LRG2", outer: [[0.38,1.0],[0.5,1.8],[0.9,2.2],[1.2,2.9],[1.5,3.0],[1.75,2.0],[1.85,-0.5],[2.06,-2.5],[2.12,-7],[2.1,-10.5],[1.6,-10.5],[1.2,-8.4],[0.96,-5.3],[0.59,-3.6],[0.42,-2.0]],
   inner: [[0.45,0.3],[0.6,0.8],[1.0,0.5],[1.45,-1.2],[1.4,-2.8],[1.0,-2.5],[0.6,-1.0]]},
  {t: "LRG3", outer: [[0.38,0.8],[0.55,1.32],[1.12,1.49],[1.53,0.8],[1.9,-0.9],[2.1,-2.95],[2.18,-6.03],[2.18,-10.5],[1.94,-10.5],[1.77,-8.4],[1.45,-5.69],[1.12,-3.97],[0.71,-2.61],[0.47,-0.9]],
   inner: [[0.49,0.46],[0.59,0.63],[0.91,0.46],[1.2,-0.22],[1.43,-1.42],[1.36,-1.76],[0.96,-1.25],[0.63,-0.73],[0.51,-0.22]]}
];
const lo_SN2p_b2p = [
  {t: "LRG1", outer: [[-4.11,-1.58],[-3.7,2.86],[-3.19,4.22],[-2.58,5.25],[-1.86,4.91],[-0.84,2.18],[-0.12,3.38],[0.29,3.2],[0.69,0.8],[0.9,-1.58],[0.08,-5.01],[-0.73,-7.73],[-1.35,-10.5],[-4.01,-10.5]], inner: null},
  {t: "LRG2", outer: [[-4.0,-2.3],[-3.6,2.2],[-2.6,4.0],[-1.8,3.7],[-0.84,2.18],[0.0,3.5],[0.4,3.0],[0.8,0.8],[1.3,-2.3],[0.5,-4],[-0.3,-5.7],[-0.6,-8],[-1.6,-8.4],[-2.0,-10.5],[-4.0,-10.5]],
   inner: [[-0.95,-1.0],[-0.8,0.5],[-0.3,1.2],[0.15,0.4],[0.2,-0.8],[-0.1,-2.6],[-0.55,-2.8]]},
  {t: "LRG3", outer: [[-4.01,-3.3],[-3.9,0.8],[-3.19,1.84],[-1.96,2.18],[-0.94,1.15],[-0.12,2.35],[0.69,1.49],[1.3,-0.9],[1.61,-2.61],[0.9,-4.32],[-1.15,-6.37],[-2.17,-7.4],[-2.99,-10.5],[-4.01,-10.5]],
   inner: [[-0.87,-0.9],[-0.7,0.3],[-0.25,0.85],[0.12,0.2],[0.15,-0.5],[-0.1,-1.7],[-0.5,-2.0]]}
];
const lo_SN2p_bsp = [
  {t: "LRG1", outer: [[-1.25,-1],[-1.2,2.0],[-0.2,2.9],[0.7,2.5],[1.4,3.6],[2.6,4.5],[3.5,4.4],[3.55,2.5],[3.1,-2],[3.0,-8],[3.0,-10.5],[-0.9,-10.5],[-1.1,-5]], inner: null},
  {t: "LRG2", outer: [[-1.68,-0.18],[-1.08,1.86],[-0.23,2.72],[0.73,2.38],[1.47,3.24],[2.68,4.26],[3.52,4.26],[3.65,2.55],[3.4,-1.89],[3.28,-7.7],[3.16,-10.5],[1.22,-10.5],[0.86,-8.72],[0.25,-6.85],[-0.23,-6.68],[-0.96,-5.3],[-1.2,-3.6],[-1.93,-2.57]],
   inner: [[-0.55,-0.4],[-0.35,0.7],[0.1,1.1],[0.6,0.6],[0.65,-0.8],[0.3,-2.4],[-0.2,-2.2]]},
  {t: "LRG3", outer: [[-1.81,-2.23],[-1.2,1.52],[0.25,1.86],[2.2,1.86],[3.16,1.52],[3.28,-1.89],[3.28,-7.7],[2.31,-9.4],[1.7,-8.37],[0.98,-5.65],[0.25,-4.97],[-1.2,-4.97],[-1.81,-4.3]],
   inner: [[-0.4,-0.45],[-0.26,0.47],[0.08,0.85],[0.42,0.47],[0.56,-0.45],[0.42,-1.37],[0.08,-1.75],[-0.26,-1.37]]}
];
const lo_SN2p_a0p = [
  {t: "LRG1", outer: [[-15.5,-10.5],[-15.7,-1],[-14,2],[-12,3.8],[-10,4.2],[-7,3.4],[-4,2.4],[0,2.3],[3,3.8],[6,4.2],[8,3.2],[9,1],[9.2,-4],[8.8,-10.5]], inner: null},
  {t: "LRG2", outer: [[-15.1,-10.5],[-16.3,-5.65],[-15.7,-0.18],[-13.9,1.52],[-10.3,2.89],[-5.4,3.92],[1.86,3.24],[9.1,2.72],[12.7,1.19],[14.6,-0.52],[13.4,-2.91],[10.3,-5.3],[6.7,-7.02],[1.86,-8.04],[-0.6,-10.5]],
   inner: [[-7,-0.6],[-5,0.6],[-1.5,0.8],[2,0.3],[3,-1.3],[1,-3.0],[-2.5,-3.3],[-5.5,-2.2]]},
  {t: "LRG3", outer: [[-21,-1.9],[-19,0.2],[-12.7,0.85],[-5,1.8],[2,2.6],[7.9,2.89],[12,2.2],[14.6,-1.2],[13.5,-3.5],[10,-5.5],[3,-7.5],[-7.9,-8.5],[-12,-7],[-15,-5],[-20,-4]],
   inner: [[-7.2,-0.69],[-5.8,0.05],[-2.4,0.35],[1,0.05],[2.4,-0.69],[1,-1.43],[-2.4,-1.73],[-5.8,-1.43]]}
];
const lo_SN2p_a2p = [
  {t: "LRG1", outer: [[-160,6.0],[-116,4.5],[-65,2.5],[-15,2.1],[20,1.6],[46,-0.1],[80,-1.3],[88,-3],[88,-10.5],[-80,-10.5],[-105,-6],[-130,-2],[-160,0]], inner: null},
  {t: "LRG2", outer: [[-160,5.6],[-116,4.3],[-65,2.4],[-15,2.0],[20,1.5],[46,-0.2],[86,-1.2],[104,-2.2],[104,-10.5],[-80,-10.5],[-116,-6],[-160,-3.3]],
   inner: [[-43,-1.2],[-33,0.2],[-10,0.8],[13,0.2],[23,-1.2],[13,-2.6],[-10,-3.2],[-33,-2.6]]},
  {t: "LRG3", outer: [[-160,2.21],[-65.3,1.86],[0.3,1.7],[35.7,0.16],[86,-1.55],[97.7,-2.91],[91,-6.33],[60.8,-8.04],[10.3,-8.72],[-40,-8.55],[-90.7,-7.36],[-160,-6.33]],
   inner: [[-42.6,-0.6],[-33.7,0.3],[-12.3,0.68],[9.1,0.3],[18,-0.6],[9.1,-1.5],[-12.3,-1.88],[-33.7,-1.5]]}
];
const lo_SN2p_SN0p = [
  {t: "LRG1", outer: [[-1.7,3.5],[-1.85,7.0],[-1.4,6.8],[-0.95,5.0],[-0.5,3.6],[-0.15,3.5],[0.0,4.4],[0.3,4.5],[0.6,3.2],[1.1,0.5],[1.3,-2.5],[1.6,-5.5],[2.0,-8],[2.2,-10.5],[1.0,-10.5],[0.5,-7.5],[-0.4,-5.5],[-1.2,-2.6],[-1.45,0.2]], inner: null},
  {t: "LRG2", outer: [[-1.75,3.55],[-1.93,7.13],[-1.5,6.97],[-1.06,5.25],[-0.55,3.72],[-0.2,3.55],[-0.11,4.57],[0.14,4.74],[0.49,3.55],[1.18,1.15],[1.7,-2.27],[2.39,-5.0],[3.08,-7.39],[3.77,-10.5],[2.04,-10.5],[1.35,-7.73],[0.66,-6.7],[-0.2,-5.35],[-1.41,-2.61],[-1.58,0.13]],
   inner: [[-0.7,1.2],[0,0.9],[0.7,-1.5],[0.7,-3.0],[0.2,-2.5],[-0.5,-0.5]]},
  {t: "LRG3", outer: [[-0.84,1.84],[-0.76,2.52],[-0.07,2.35],[0.49,1.84],[1.01,-1.24],[1.87,-5.0],[2.65,-7.73],[2.73,-8.76],[2.22,-9.1],[1.35,-8.42],[0.66,-7.39],[-0.07,-5.69],[-0.76,-2.95],[-0.93,0.13]],
   inner: [[-0.5,0.8],[-0.2,0.7],[0.35,-0.5],[0.55,-1.6],[0.35,-1.9],[0.0,-1.2],[-0.55,0.1]]}
];

// ---------- 2D contours, upper triangle (BGS, ELG2, QSO) ----------
const up_b1p_b2p = [
  {t: "BGS", outer: [[-4.9,2.23],[-3.5,1.95],[-2.2,1.7],[-0.85,1.62],[-0.49,1.85],[0.8,1.82],[1.0,1.72],[0.8,1.3],[0.42,0.79],[0.2,0.45],[-0.1,0.45],[-0.6,0.7],[-1.35,1.08],[-2.46,1.3],[-3.8,1.8]],
   inner: [[-1.6,1.3],[-1.2,1.35],[-1.0,1.2],[-1.4,1.15]]},
  {t: "ELG2", outer: [[-1.9,1.13],[-1.2,1.18],[-0.5,1.15],[0.4,1.17],[1.05,1.1],[1.0,0.8],[0.5,0.55],[0.0,0.42],[-0.6,0.6],[-1.5,0.85]],
   inner: [[-0.3,0.75],[0.25,0.75],[0.2,0.45],[-0.2,0.45]]},
  {t: "QSO", outer: [[-4.9,2.23],[-3.6,2.0],[-2.2,1.72],[-1.2,1.58],[-0.6,1.62],[0.3,1.82],[1.5,1.82],[1.5,1.55],[1.0,1.2],[0.6,0.75],[0.4,0.4],[0.05,0.35],[-0.4,0.5],[-1.0,0.95],[-1.8,1.3],[-3.0,1.75],[-4.6,2.2]],
   inner: [[-0.05,1.17],[0.25,0.9],[0.25,0.5],[0.0,0.43],[-0.3,0.55],[-0.3,0.9]]}
];
const up_b1p_bsp = [
  {t: "BGS", outer: [[-2.0,1.49],[-0.9,1.9],[0.9,1.95],[2.3,2.32],[3.6,2.53],[3.8,2.28],[3.7,1.76],[5.5,1.67],[5.1,1.44],[2.8,1.16],[1.6,0.88],[0.9,0.6],[0.2,0.37],[-0.5,0.37],[-0.8,0.6],[-1.6,1.16]],
   inner: [[0.9,1.45],[1.1,1.3],[1.0,1.1],[0.75,1.2]]},
  {t: "ELG2", outer: [[-1.5,1.1],[-1.2,1.16],[0.2,1.17],[1.7,1.12],[1.9,0.8],[0.9,0.56],[0.0,0.46],[-0.7,0.6],[-1.4,0.88]],
   inner: [[-0.3,0.85],[0.7,0.85],[0.6,0.5],[0.0,0.45]]},
  {t: "QSO", outer: [[-2.8,1.62],[-1.9,1.83],[-0.5,1.9],[0.5,1.65],[1.6,1.79],[2.8,1.86],[5.1,1.86],[5.4,1.74],[4.2,1.49],[2.8,1.21],[1.9,0.93],[1.4,0.7],[0.5,0.46],[-0.2,0.35],[-0.8,0.46],[-1.4,0.88],[-2.1,1.25]],
   inner: [[-0.47,1.18],[0.23,1.0],[0.81,0.93],[0.81,0.6],[0.23,0.5],[-0.35,0.55],[-0.58,0.88]]}
];
const up_b1p_a0p = [
  {t: "BGS", outer: [[-15.2,2.09],[-11.2,2.32],[-5.3,2.37],[4,2.14],[17.9,1.9],[23.7,1.72],[25.5,1.49],[24.3,1.02],[19.1,0.65],[12.1,0.51],[0.5,0.46],[-7.7,0.46],[-11.2,0.7],[-14.7,1.11],[-15.8,1.72]],
   inner: [[-8,1.2],[0,1.35],[6,1.1],[0,0.95]]},
  {t: "ELG2", outer: [[-29.2,0.9],[-22.8,1.04],[-11.2,1.23],[-0.7,1.32],[12.1,1.25],[31,1.1],[31,0.8],[21.4,0.65],[6.3,0.53],[-5.3,0.46],[-13.5,0.51],[-20.5,0.65],[-28.6,0.84]],
   inner: [[-14,0.62],[-8,0.78],[3,0.8],[11,0.7],[11,0.58],[3,0.48],[-8,0.5]]},
  {t: "QSO", outer: [[-22.8,1.72],[-19.3,1.95],[-12.3,2.09],[0.5,2.07],[12.1,1.88],[19.1,1.65],[19.1,1.44],[15.6,1.11],[12.1,0.79],[5.1,0.51],[-1.9,0.37],[-8.8,0.42],[-11.2,0.6],[-17,1.11],[-21.6,1.49]],
   inner: [[0.5,1.18],[3.4,1.11],[3.7,0.79],[1.6,0.53],[-5.3,0.46],[-8.2,0.6],[-6.5,0.88],[-3,1.05]]}
];
const up_b1p_a2p = [
  {t: "BGS", outer: [[-160,2.16],[-81,2.19],[-8,2.16],[55,2.09],[70,1.95],[66,1.35],[60,1.0],[66,0.6],[55,0.45],[30,0.4],[-8,0.45],[-81,0.72],[-160,0.9]],
   inner: [[-75,1.2],[-20,1.35],[10,1.25],[-20,1.05]]},
  {t: "ELG2", outer: [[-160,1.14],[-105,1.21],[-57,1.23],[7,1.18],[50,1.07],[55,0.88],[41,0.65],[26,0.49],[-8,0.51],[-42,0.7],[-95,0.88],[-144,1.02],[-160,1.05]],
   inner: [[-45,0.85],[0,0.9],[25,0.75],[25,0.55],[-5,0.5],[-40,0.65]]},
  {t: "QSO", outer: [[-160,2.02],[-81,2.09],[-8,1.95],[79.6,1.67],[60,1.35],[55,1.11],[60,0.6],[50,0.37],[16,0.42],[-22,0.53],[-81,0.74],[-160,0.95]],
   inner: [[-78,1.0],[-27,1.14],[2,1.07],[26,0.7],[28,0.51],[-8,0.51],[-47,0.74],[-76,0.93]]}
];
const up_b1p_SN0p = [
  {t: "BGS", outer: [[-4.84,1.76],[-4.26,1.86],[-2.52,1.95],[-0.39,2.04],[1.36,2.16],[2.91,2.18],[4.07,2.02],[3.29,1.72],[1.94,1.35],[1.4,1.02],[0.97,0.74],[0.58,0.51],[0.0,0.46],[-0.58,0.51],[-0.97,0.88],[-1.74,1.25],[-3.49,1.53]],
   inner: [[0.1,1.4],[0.25,1.35],[0.2,1.2],[0.05,1.25]]},
  {t: "ELG2", outer: [[-0.87,1.23],[0,1.29],[0.68,1.21],[0.87,1.02],[0.58,0.79],[0.29,0.51],[-0.1,0.46],[-0.48,0.6],[-0.78,0.88],[-0.97,1.11]],
   inner: [[-0.15,0.9],[0.12,0.9],[0.12,0.55],[-0.15,0.55]]},
  {t: "QSO", outer: [[-0.1,2.11],[0.1,2.09],[0.2,1.49],[0.3,0.88],[0.2,0.56],[0.0,0.36],[-0.2,0.56],[-0.4,1.25],[-0.3,1.81]],
   inner: [[-0.08,1.25],[0.08,1.25],[0.1,0.8],[0.06,0.52],[-0.06,0.52],[-0.1,0.8]]}
];
const up_b1p_SN2p = [
  {t: "BGS", outer: [[-10.5,2.16],[-3.7,2.11],[2.1,2.04],[6,1.95],[10.5,1.93],[10.5,1.02],[5.2,0.79],[3.3,0.56],[0.2,0.42],[-2.6,0.46],[-5.3,0.7],[-7.6,0.97],[-10.5,1.16]],
   inner: [[-3.5,1.3],[-1,1.38],[0.5,1.3],[-1,1.2]]},
  {t: "ELG2", outer: [[-10.5,1.07],[-7.6,1.21],[-3.7,1.29],[0.2,1.25],[6.4,1.21],[6.5,1.11],[4,0.93],[3.3,0.6],[2.1,0.49],[-1.8,0.46],[-3.7,0.6],[-5.7,0.79],[-8.4,0.97]],
   inner: [[-3.5,0.85],[-1,0.95],[1,0.9],[1,0.55],[-1,0.48],[-3.5,0.6]]},
  {t: "QSO", outer: [[-6.4,1.95],[-4.9,2.14],[-1.8,2.14],[0.9,1.9],[5.6,1.76],[7.9,1.63],[7.5,1.49],[4.8,1.3],[2.9,0.97],[2.1,0.6],[0.2,0.37],[-1.8,0.42],[-3,0.65],[-3.7,1.02],[-4.5,1.44],[-6.4,1.72]],
   inner: [[-0.6,1.25],[0.2,1.16],[0.5,0.79],[0.9,0.6],[0.5,0.5],[-1.0,0.49],[-1.6,0.6],[-1.2,0.88],[-1.3,1.16]]}
];
const up_b2p_bsp = [
  {t: "BGS", outer: [[-3.4,0.9],[-1.5,0.55],[0,0.1],[0.6,1.7],[1.2,1.6],[1.7,0.2],[3.0,-0.9],[5.0,-2.2],[5.9,-3.4],[3.9,-3.3],[3.3,-4.6],[2.8,-5.1],[2.3,-4.3],[2.1,-2.9],[0.8,-1.6],[-0.6,-0.5],[-2.5,0.5]], inner: null},
  {t: "ELG2", outer: [[-1.6,0.89],[-1.05,1.24],[-0.5,0.9],[0.2,0.6],[1.2,-0.15],[1.9,-0.96],[2.1,-1.78],[1.6,-1.9],[0.5,-1.3],[-0.5,-0.4],[-1.4,0.2]],
   inner: [[-0.2,0.0],[0.5,-0.3],[1.1,-0.8],[0.6,-0.9],[-0.1,-0.5]]},
  {t: "QSO", outer: [[-3.4,1.36],[-1.9,1.5],[-0.8,2.05],[0.0,1.7],[0.9,1.0],[1.9,-0.15],[3.3,-1.1],[5.1,-2.24],[5.9,-3.52],[3.7,-3.17],[2.2,-2.8],[2.0,-2.0],[1.0,-1.3],[-0.2,-0.6],[-1.6,0.2],[-3.3,0.89]],
   inner: [[-0.5,0.15],[0.4,-0.1],[0.9,-0.5],[0.5,-0.62],[-0.2,-0.4],[-0.65,-0.05]]}
];
const up_b2p_a0p = [
  {t: "BGS", outer: [[-19.3,0.78],[-18.1,1.01],[-11.2,1.24],[0.5,1.01],[17.9,1.12],[27.2,0.89],[31,0.54],[23.7,-0.15],[17.9,-1.08],[16.7,-3.17],[6.3,-3.86],[-5.3,-4.79],[-11.2,-4.9],[-17,-4.1],[-18.1,-2.24],[-17,-0.85]], inner: null},
  {t: "ELG2", outer: [[-29.2,-0.38],[-22.8,-0.15],[-21.6,0.54],[-18.1,1.01],[0.5,1.12],[17.9,0.89],[31,0.54],[31,-1.08],[17.9,-1.43],[0.5,-1.9],[-5.3,-2.24],[-17,-1.78],[-25.1,-1.08],[-28.6,-0.85]],
   inner: [[-13,-0.3],[-3,0.1],[12,-0.2],[-3,-0.8]]},
  {t: "QSO", outer: [[-19.3,1.94],[-5.3,1.94],[12.1,1.47],[22.6,1.24],[21.4,-0.38],[19.1,-0.85],[20.2,-2.24],[15.6,-3.17],[0.5,-3.63],[-11.2,-3.52],[-20.5,-3.63],[-26.3,-3.05],[-24,-2.24],[-18.1,-1.54],[-19.3,0.31]],
   inner: [[-8.1,-0.27],[-5,0.15],[1,0.2],[4,-0.2],[1,-0.7],[-5,-0.65]]}
];
const up_b2p_a2p = [
  {t: "BGS", outer: [[-160,0.54],[-81,0.5],[-8,0.31],[60,0.08],[89,-1.08],[94,-2.24],[65,-2.7],[-8,-3.4],[-81,-4.1],[-160,-4.68]], inner: null},
  {t: "ELG2", outer: [[-160,1.0],[-105,1.24],[-32,0.89],[31,0.31],[60,-0.62],[67,-1.66],[41,-1.82],[-32,-1.78],[-81,-1.54],[-95,-0.85],[-139,-0.38],[-160,-0.38]],
   inner: [[-40,0.0],[20,0.0],[30,-0.5],[-30,-0.6]]},
  {t: "QSO", outer: [[-160,2.05],[-105,2.12],[-32,1.71],[31,1.24],[65,0.31],[104,-1.5],[104,-2.4],[41,-3.17],[-32,-3.63],[-105,-3.86],[-160,-3.9]],
   inner: [[-74,-0.27],[-32,0.2],[16,0.08],[28,-0.15],[7,-0.62],[-32,-0.57],[-71,-0.38]]}
];
const up_b2p_SN0p = [
  {t: "BGS", outer: [[-4.84,1.47],[-3.88,1.59],[-4.07,1.01],[-2.33,0.54],[-1.16,0.31],[0,0.08],[1.36,-0.15],[2.71,-0.38],[3.29,-2.7],[3.1,-3.29],[2.33,-3.86],[1.94,-4.79],[0.78,-4.9],[-0.19,-4.1],[-0.78,-3.63],[-3.49,-3.4],[-4.07,-2.94],[-3.88,-2.24],[-1.74,-0.85],[-3.49,-0.15],[-4.84,0.54]], inner: null},
  {t: "ELG2", outer: [[-0.87,1.36],[-0.29,1.43],[0.19,0.54],[0.78,-0.27],[0.78,-0.62],[0.39,-1.31],[0.29,-2.01],[-0.19,-2.12],[-0.68,-1.78],[-0.68,-0.38],[-0.87,0.54]],
   inner: [[-0.2,0.6],[0.2,0.4],[0.2,-0.8],[-0.2,-0.6]]},
  {t: "QSO", outer: [[-0.29,2.28],[-0.1,2.17],[0.19,1.01],[0.29,-2.7],[0.1,-4.33],[-0.1,-4.33],[-0.29,-2.7],[-0.48,-0.38],[-0.39,1.47]],
   inner: [[-0.05,0.3],[0.08,0.1],[0.05,-0.5],[-0.08,-0.3]]}
];
const up_b2p_SN2p = [
  {t: "BGS", outer: [[-10.5,0.31],[-3.7,0.54],[2.1,1.01],[10.5,1.12],[10.5,-3.86],[4,-4.33],[-1.8,-4.45],[-7.6,-4.21],[-10.5,-4.1]], inner: null},
  {t: "ELG2", outer: [[-10.5,-0.27],[-9.15,-0.15],[-7.2,0.08],[-3.7,0.78],[0.2,1.01],[5.8,1.12],[5.6,0.89],[4.4,0.31],[4.8,-0.38],[4,-0.85],[4.8,-1.78],[3.3,-2.01],[0.2,-2.06],[-5.7,-1.9],[-9.15,-1.66],[-8.4,-1.08],[-10.5,-0.62]],
   inner: [[-3.7,-0.2],[-1,0.35],[2,0.1],[2.1,-0.4],[-1,-0.75]]},
  {t: "QSO", outer: [[-5.3,1.71],[-3.7,2.17],[0.2,2.28],[4,1.47],[7.5,0.66],[5.2,0.2],[4.4,-0.15],[7.1,-2.24],[6.7,-3.4],[2.1,-3.75],[-1.8,-4.1],[-5.7,-3.63],[-7.2,-2.94],[-4.5,-1.54],[-4.5,-0.38],[-5.1,0.54]],
   inner: [[-1.8,-0.2],[-1,0.2],[0.6,0.2],[1.3,-0.2],[0.6,-0.6],[-1,-0.6]]}
];
const up_bsp_a0p = [
  {t: "BGS", outer: [[-14.7,3.98],[-5.3,4.44],[6.3,4.68],[16.7,4.68],[19.1,3.28],[19.7,2.35],[27.2,2.0],[31,1.66],[19.1,1.43],[14.4,0.5],[15.6,-0.66],[18.5,-2.28],[9.8,-1.82],[0.5,-1.13],[-11.2,-1.36],[-18.1,-1.13],[-19.3,-0.43],[-18.7,2.35],[-16.4,3.28]], inner: null},
  {t: "ELG2", outer: [[-30,0.38],[-26.3,1.08],[-22.8,1.78],[-11.2,2.0],[6.3,2.0],[17.9,1.89],[31,1.66],[31,-1.24],[17.9,-1.13],[0.5,-1.36],[-17,-1.47],[-21.6,-0.89],[-22.8,0.04],[-28.6,0.15]],
   inner: [[-13.5,0.2],[-5,0.9],[8,0.8],[12,0.0],[5,-0.6],[-8,-0.6]]},
  {t: "QSO", outer: [[-25.7,3.63],[-19.3,4.33],[-5.3,4.44],[12.1,4.33],[14.4,3.63],[13.3,2.35],[12.1,1.2],[14.4,-0.43],[17.9,-2.05],[12.1,-2.05],[-5.3,-1.7],[-19.3,-1.47],[-19.3,-0.66],[-21.6,0.27],[-22.8,1.66],[-25.1,3.05]],
   inner: [[-8.3,0.5],[-1.9,0.85],[1.6,0.73],[1.6,0.04],[2.8,-0.43],[-0.7,-0.6],[-6.5,-0.43],[-8.3,0.04]]}
];
const up_bsp_a2p = [
  {t: "BGS", outer: [[-160,4.7],[-81,4.56],[-8,4.1],[65,3.9],[89,3.5],[91,1.8],[70,-0.5],[40,-0.9],[-32,-1.1],[-105,-1.4],[-160,-1.6]], inner: null},
  {t: "ELG2", outer: [[-144,-1.36],[-120,-0.2],[-81,0.73],[-32,1.66],[16,1.94],[60,1.89],[65,1.43],[50,0.5],[31,-0.2],[-8,-0.89],[-57,-1.24],[-105,-1.47],[-139,-1.54]],
   inner: [[-40,0.3],[0,0.7],[30,0.2],[20,-0.5],[-20,-0.6]]},
  {t: "QSO", outer: [[-160,4.44],[-57,4.33],[16,3.98],[70,3.52],[104,3.05],[94,1.43],[75,-0.66],[41,-1.82],[-32,-2.15],[-105,-2.28],[-160,-2.15]],
   inner: [[-61,0.27],[-47,0.73],[-8,0.85],[26,0.38],[21,-0.43],[-32,-0.55],[-61,-0.43]]}
];
const up_bsp_SN0p = [
  {t: "BGS", outer: [[-4.17,5.84],[-3.49,5.95],[-1.94,5.13],[-0.58,4.68],[0.39,3.75],[1.94,3.28],[4.07,2.71],[3.49,2.12],[2.33,0.96],[1.55,-0.2],[0,-0.89],[-1.55,-1.59],[-3.1,-2.52],[-4.07,-3.1],[-3.68,-2.28],[-2.71,-0.89],[-1.55,0.04],[-3.1,0.5],[-3.78,1.08],[-3.1,1.43],[-1.55,1.89],[-1.74,2.82],[-3.1,4.44],[-4.17,5.6]], inner: null},
  {t: "ELG2", outer: [[-0.39,2.35],[0.1,2.12],[0.39,1.43],[0.87,0.38],[0.68,0.04],[0.39,-0.89],[0.19,-1.59],[-0.39,-1.82],[-0.87,-1.59],[-0.78,0.04],[-0.58,1.43]],
   inner: [[-0.2,1.2],[0.15,1.1],[0.2,-0.6],[-0.18,-0.8]]},
  {t: "QSO", outer: [[-0.39,5.26],[-0.19,5.13],[0.19,3.52],[0.29,0.04],[0.1,-2.75],[-0.23,-2.87],[-0.39,-1.13],[-0.58,2.35],[-0.54,4.68]],
   inner: [[-0.08,0.85],[0.08,0.6],[0.06,-0.4],[-0.08,-0.5],[-0.1,0.3]]}
];
const up_bsp_SN2p = [
  {t: "BGS", outer: [[-10.5,4.1],[-3.7,4.6],[2.1,5.1],[6,5.5],[10.5,5.7],[10.5,0.6],[5.5,0.5],[4.8,-0.3],[7.5,-1.2],[10.5,-1.3],[10.5,-2.3],[4,-2.0],[-3.7,-1.5],[-10.5,-1.2]], inner: null},
  {t: "ELG2", outer: [[-10.5,0.85],[-7.6,1.43],[-3.7,2.12],[2.1,2.24],[4,2.0],[4.8,0.96],[4.6,0.27],[5.8,-0.89],[5.2,-1.36],[2.1,-1.7],[-1.8,-1.7],[-4.5,-1.13],[-7.6,-0.2],[-10.5,0.15]],
   inner: [[-3.7,0.2],[-1,0.9],[2,0.6],[2.1,-0.3],[-1,-0.7],[-3,-0.4]]},
  {t: "QSO", outer: [[-6,4.21],[-3.7,4.44],[0.2,4.56],[4.8,4.56],[6.9,3.98],[6.7,3.63],[4.8,2.82],[3.6,1.66],[4.4,-0.2],[6,-1.13],[7.1,-2.63],[4,-2.52],[0.2,-2.52],[-3.7,-2.4],[-4.9,-1.82],[-5.3,0.04],[-6.4,2.35],[-6,3.75]],
   inner: [[-1.7,0.08],[-1.2,0.65],[-0.23,0.85],[0.8,0.65],[1.24,0.08],[0.8,-0.5],[-0.23,-0.69],[-1.2,-0.5]]}
];
const up_a0p_a2p = [
  {t: "BGS", outer: [[-160,23.6],[-105,20.7],[-32,14.9],[41,7.9],[75,1],[84,-3.7],[75,-8.4],[41,-13],[-8,-16.5],[-57,-19.4],[-105,-19.4],[-160,-18.8]],
   inner: [[-75,2],[-30,6],[20,0],[25,-8],[-30,-5]]},
  {t: "ELG2", outer: [[-130,25],[-100,31],[-5.5,31],[26,17.2],[50,2.2],[60,-9.5],[60,-22.2],[45,-31],[2,-31],[-32,-23.4],[-81,-13],[-160,1],[-160,17]],
   inner: [[-38,9],[-18,14],[5,10],[18,-2],[16,-12],[2,-14.5],[-15,-6],[-35,3]]},
  {t: "QSO", outer: [[-160,16.6],[-105,17.4],[-57,16.6],[-8,13.7],[41,7.9],[60,1],[70,-4.8],[87,-8.4],[87,-16.5],[65,-18.8],[16,-20.6],[-57,-22.2],[-115,-24.4],[-160,-23]],
   inner: [[-66,1.0],[-45,4.0],[-10,3.0],[20,-1.5],[28,-5.5],[10,-9],[-15,-7.5],[-45,-3.5]]}
];
const up_a0p_SN0p = [
  {t: "BGS", outer: [[-4.26,24.2],[-3.5,26.5],[-2.9,28.8],[-1.55,31],[0.39,9.1],[1.74,2.2],[4.07,-4.9],[4.26,-8.4],[3.29,-13],[1.55,-18.8],[0.78,-20],[0,-17.6],[-0.78,-11.8],[-1.55,-3.7],[-3.1,12.6],[-4.17,20.7]], inner: null},
  {t: "ELG2", outer: [[-0.8,31],[0.3,31],[0.4,20],[0.87,-2],[0.68,-16],[0.5,-31],[-0.3,-31],[-0.5,-16],[-0.6,-2],[-0.78,20]],
   inner: [[-0.22,12],[0.1,13],[0.26,-5],[0.08,-13],[-0.2,-5]]},
  {t: "QSO", outer: [[-0.3,23],[-0.1,22.6],[0.2,10],[0.3,-14],[0.2,-26],[-0.1,-27],[-0.3,-14],[-0.4,10]],
   inner: [[-0.1,5],[0.08,3],[0.07,-8],[-0.08,-6]]}
];
const up_a0p_SN2p = [
  {t: "BGS", outer: [[-10.5,6.7],[-5.7,10.2],[0.2,17.2],[4.8,23],[10.5,29.4],[10.5,-7.2],[7.1,-10.7],[4,-15.4],[-1.8,-18.2],[-10.5,-17.6]], inner: null},
  {t: "ELG2", outer: [[-7.6,18.4],[-5.3,31],[3.8,31],[4.8,19.6],[7.1,7.9],[7.1,1],[5.2,-7.2],[3.3,-15.4],[1.9,-31],[-4.1,-31],[-6.8,-21.2],[-10.5,-13],[-10.5,9.1]],
   inner: [[-3.7,-0.8],[-2.85,8.3],[-0.8,12],[1.25,8.3],[2.1,-0.8],[1.25,-9.9],[-0.8,-13.6],[-2.85,-9.9]]},
  {t: "QSO", outer: [[-1.4,20.1],[2.1,20.9],[6,18.4],[7.1,10.2],[6.7,-0.2],[4.8,-3.7],[3.6,-13],[2.1,-23.4],[0.2,-28.1],[-3.7,-28.1],[-4.9,-22.2],[-6,-13],[-6.6,-4.9],[-4.5,4.4],[-3,14.9]],
   inner: [[-1.7,-2.3],[-1.27,2],[-0.23,3.7],[0.81,2],[1.24,-2.3],[0.81,-6.5],[-0.23,-8.3],[-1.27,-6.5]]}
];
const up_a2p_SN0p = [
  {t: "BGS", outer: [[-0.58,67],[0.39,74.4],[2.33,64.7],[4.26,45.3],[4.65,26],[4.65,-7.8],[4.07,-32],[3.49,-80],[2.91,-128.7],[2.33,-160],[-2.23,-160],[-1.74,-104.6],[-1.36,-56],[-1.16,16.3],[-0.78,55]], inner: null},
  {t: "ELG2", outer: [[-0.48,64.7],[0,69.5],[0.39,59.9],[0.68,16.3],[0.97,-32],[0.68,-104.6],[0.58,-160],[-0.87,-160],[-0.97,-104.6],[-0.68,-32],[-0.68,40]],
   inner: [[-0.22,32],[0.18,32],[0.26,-20],[0.12,-78],[-0.2,-60]]},
  {t: "QSO", outer: [[-0.1,104],[0.2,104],[0.3,40],[0.4,-32],[0.3,-160],[-0.3,-160],[-0.4,-32],[-0.3,40]],
   inner: [[-0.08,33],[0.08,30],[0.1,-15],[0.04,-73],[-0.04,-73],[-0.1,-15]]}
];
const up_a2p_SN2p = [
  {t: "BGS", outer: [[-10.5,80],[-1,72],[0.2,45],[4,-22],[7.1,-95],[10.5,-160],[-10.5,-160]], inner: null},
  {t: "ELG2", outer: [[-10.5,-3],[-7.6,26],[-3.7,64.7],[-1.8,72],[0.2,70.5],[2.1,55],[4.4,16.3],[4.8,-32],[5.6,-90],[6.4,-160],[0.2,-160],[-3.7,-124],[-7.6,-95],[-10.5,-70]],
   inner: [[-3.7,15],[-1,28],[1.5,15],[2.1,-15],[0,-40],[-2.5,-30]]},
  {t: "QSO", outer: [[-4.9,104],[-0.8,104],[-0.4,69.5],[1.7,40.5],[2.5,16.3],[2.9,-32],[3.3,-80],[3.6,-160],[-5.1,-160],[-5.7,-80],[-6.05,-7.8],[-5.7,55]],
   inner: [[-1.8,26],[-0.2,30],[1.1,6.7],[1.3,-22],[0.5,-46.5],[0,-73],[-0.8,-56],[-1.6,-32],[-1.9,6.7]]}
];
const up_SN0p_SN2p = [
  {t: "BGS", outer: [[-10.5,3.36],[-3.7,2.39],[2.1,1.42],[7.1,0.45],[8.5,0.07],[10.5,-0.2],[10.5,-2.83],[4,-2.06],[-3.7,-1.29],[-10.5,-0.61]], inner: null},
  {t: "ELG2", outer: [[-10.5,0.84],[-7.6,0.88],[-1.8,0.65],[2.1,0.36],[6.7,-0.03],[7.5,-0.22],[6,-0.61],[2.1,-0.94],[-3.7,-0.9],[-7.6,-0.32],[-10.5,0.26]],
   inner: [[-4,0.3],[0,0.25],[2.7,-0.2],[2.7,-0.45],[0,-0.35],[-3,-0.1]]},
  {t: "QSO", outer: [[-6.6,0.26],[-3.7,0.4],[2.1,0.16],[6,-0.16],[8.9,-0.42],[6,-0.55],[2.1,-0.5],[-3.7,-0.03],[-6.6,0.1]],
   inner: [[-1.6,0.05],[0,0.08],[1.3,-0.1],[0,-0.2],[-1.2,-0.1]]}
];

// [row, col, data]
const panels2d = [
  [1,0,lo_b2p_b1p],[2,0,lo_bsp_b1p],[2,1,lo_bsp_b2p],
  [3,0,lo_a0p_b1p],[3,1,lo_a0p_b2p],[3,2,lo_a0p_bsp],
  [4,0,lo_a2p_b1p],[4,1,lo_a2p_b2p],[4,2,lo_a2p_bsp],[4,3,lo_a2p_a0p],
  [5,0,lo_SN0p_b1p],[5,1,lo_SN0p_b2p],[5,2,lo_SN0p_bsp],[5,3,lo_SN0p_a0p],[5,4,lo_SN0p_a2p],
  [6,0,lo_SN2p_b1p],[6,1,lo_SN2p_b2p],[6,2,lo_SN2p_bsp],[6,3,lo_SN2p_a0p],[6,4,lo_SN2p_a2p],[6,5,lo_SN2p_SN0p],
  [0,1,up_b1p_b2p],[0,2,up_b1p_bsp],[0,3,up_b1p_a0p],[0,4,up_b1p_a2p],[0,5,up_b1p_SN0p],[0,6,up_b1p_SN2p],
  [1,2,up_b2p_bsp],[1,3,up_b2p_a0p],[1,4,up_b2p_a2p],[1,5,up_b2p_SN0p],[1,6,up_b2p_SN2p],
  [2,3,up_bsp_a0p],[2,4,up_bsp_a2p],[2,5,up_bsp_SN0p],[2,6,up_bsp_SN2p],
  [3,4,up_a0p_a2p],[3,5,up_a0p_SN0p],[3,6,up_a0p_SN2p],
  [4,5,up_a2p_SN0p],[4,6,up_a2p_SN2p],
  [5,6,up_SN0p_SN2p]
];
const diagPanels = [[0,d_b1p,null],[1,d_b2p,prior_b2p],[2,d_bsp,prior_bsp],[3,d_a0p,prior_a0p],[4,d_a2p,prior_a2p],[5,d_SN0p,prior_SN0p],[6,d_SN2p,prior_SN2p]];

// ---------- styles ----------
const tracerColor = {LRG1: "#ffa500", LRG2: "#ff4500", LRG3: "#b22222", BGS: "#9acd32", ELG2: "#0000ff", QSO: "#2e8b57"};
const lightColor = c => d3.interpolateRgb("#ffffff", c)(0.3);
const fig = {left: 125, top: 181.5, cellW: 195.8, cellH: 198};
const tickFont = 37, labelFont = 44, serif = "'Liberation Serif', 'DejaVu Serif', serif";

const svg = d3.select("#corner");
svg.append("rect").attr("width", 1499).attr("height", 1675).attr("fill", "#fff");
svg.append("defs").append("clipPath").attr("id", "cellclip")
  .append("rect").attr("width", fig.cellW).attr("height", fig.cellH);

const xs = paramDomains.map(d => d3.scaleLinear().domain(d).range([0, fig.cellW]));
const ys = paramDomains.map(d => d3.scaleLinear().domain(d).range([fig.cellH, 0]));
const yDens = d3.scaleLinear().domain([0, 1.1]).range([fig.cellH, 0]);

const dashed = sel => sel.attr("fill", "none").attr("stroke", "#808080")
  .attr("stroke-width", 2.6).attr("stroke-dasharray", "8,4.5");

function cell(r, c) {
  return svg.append("g").attr("transform", `translate(${fig.left + c * fig.cellW},${fig.top + r * fig.cellH})`);
}

function cleanAxis(g) {
  g.select(".domain").remove();
  g.selectAll(".tick line").attr("stroke", "#222").attr("stroke-width", 1);
}

function frame(g, r, c, diag) {
  const x = xs[c], y = ys[r];
  g.append("g").attr("transform", `translate(0,${fig.cellH})`)
    .call(d3.axisBottom(x).tickValues(paramTicks[c]).tickSize(-5).tickFormat("")).call(cleanAxis);
  g.append("g").call(d3.axisTop(x).tickValues(paramTicks[c]).tickSize(-5).tickFormat("")).call(cleanAxis);
  if (!diag) {
    g.append("g").call(d3.axisLeft(y).tickValues(paramTicks[r]).tickSize(-5).tickFormat("")).call(cleanAxis);
    g.append("g").attr("transform", `translate(${fig.cellW},0)`)
      .call(d3.axisRight(y).tickValues(paramTicks[r]).tickSize(-5).tickFormat("")).call(cleanAxis);
  }
  g.append("rect").attr("width", fig.cellW).attr("height", fig.cellH)
    .attr("fill", "none").attr("stroke", "#222").attr("stroke-width", 1);
}

function drawPrior2d(g, r, c) {
  const x = xs[c], y = ys[r], sx = priorSigma[c], sy = priorSigma[r];
  if (sx == null && sy == null) return;
  if (sx == null) {
    bandLevels.forEach(k => [-1, 1].forEach(s => {
      const v = priorMean[r] + s * k * sy;
      g.append("line").attr("x1", 0).attr("x2", fig.cellW).attr("y1", y(v)).attr("y2", y(v)).call(dashed);
    }));
  } else if (sy == null) {
    bandLevels.forEach(k => [-1, 1].forEach(s => {
      const v = priorMean[c] + s * k * sx;
      g.append("line").attr("y1", 0).attr("y2", fig.cellH).attr("x1", x(v)).attr("x2", x(v)).call(dashed);
    }));
  } else {
    ellipseLevels.forEach(k => {
      g.append("ellipse")
        .attr("cx", x(priorMean[c])).attr("cy", y(priorMean[r]))
        .attr("rx", x(priorMean[c] + k * sx) - x(priorMean[c]))
        .attr("ry", y(priorMean[r]) - y(priorMean[r] + k * sy))
        .call(dashed);
    });
  }
}

function draw2d(r, c, entries) {
  const g = cell(r, c), x = xs[c], y = ys[r];
  const body = g.append("g").attr("clip-path", "url(#cellclip)");
  const shape = d3.line().x(d => x(d[0])).y(d => y(d[1])).curve(d3.curveCatmullRomClosed.alpha(0.5));
  entries.forEach(e => {
    body.append("path").attr("d", shape(e.outer))
      .attr("fill", lightColor(tracerColor[e.t])).attr("fill-opacity", 0.85);
    if (e.inner) body.append("path").attr("d", shape(e.inner))
      .attr("fill", tracerColor[e.t]).attr("fill-opacity", 0.85);
  });
  entries.forEach(e => {
    body.append("path").attr("d", shape(e.outer)).attr("fill", "none")
      .attr("stroke", tracerColor[e.t]).attr("stroke-opacity", 0.55).attr("stroke-width", 1.7);
  });
  drawPrior2d(body, r, c);
  frame(g, r, c, false);
}

function drawDiag(k, curves, prior) {
  const g = cell(k, k), x = xs[k];
  const body = g.append("g").attr("clip-path", "url(#cellclip)");
  const line = d3.line().x(d => x(d[0])).y(d => yDens(d[1])).curve(d3.curveMonotoneX);
  curves.forEach(cv => {
    body.append("path").attr("d", line(cv.pts)).attr("fill", "none")
      .attr("stroke", tracerColor[cv.t]).attr("stroke-width", 2.1);
  });
  if (prior) body.append("path").attr("d", line(prior)).call(dashed);
  frame(g, k, k, true);
}

panels2d.forEach(([r, c, data]) => draw2d(r, c, data));
diagPanels.forEach(([k, curves, prior]) => drawDiag(k, curves, prior));

// ---------- axis labels ----------
function mathLabel(t, lab) {
  t.append("tspan").attr("font-style", lab.italic ? "italic" : "normal").text(lab.main);
  t.append("tspan").attr("font-size", "62%").attr("dy", "0.18em").text(lab.sub);
}
const n = params.length;
const bottomY = fig.top + n * fig.cellH;
for (let c = 0; c < n; c++) {
  const ax = svg.append("g").attr("transform", `translate(${fig.left + c * fig.cellW},${bottomY})`)
    .call(d3.axisBottom(xs[c]).tickValues(paramTicks[c]).tickSize(0).tickPadding(7).tickFormat(d3.format("d")));
  ax.select(".domain").remove();
  ax.selectAll("text").attr("font-size", tickFont).attr("font-family", serif);
  const t = svg.append("text").attr("x", fig.left + (c + 0.5) * fig.cellW).attr("y", 1657)
    .attr("text-anchor", "middle").attr("font-size", labelFont).attr("font-family", serif);
  mathLabel(t, paramLabels[c]);
}
for (let r = 0; r < n; r++) {
  const ax = svg.append("g").attr("transform", `translate(${fig.left},${fig.top + r * fig.cellH})`)
    .call(d3.axisLeft(ys[r]).tickValues(paramTicks[r]).tickSize(0).tickPadding(5).tickFormat(d3.format("d")));
  ax.select(".domain").remove();
  ax.selectAll("text").attr("font-size", tickFont).attr("font-family", serif);
  const bb = ax.node().getBBox();
  const lx = fig.left + bb.x - 14, ly = fig.top + (r + 0.5) * fig.cellH;
  const t = svg.append("text").attr("transform", `translate(${lx},${ly}) rotate(-90)`)
    .attr("text-anchor", "middle").attr("font-size", labelFont).attr("font-family", serif);
  mathLabel(t, paramLabels[r]);
}

// ---------- legend ----------
const leg = svg.append("g");
leg.append("rect").attr("x", 211).attr("y", 5).attr("width", 1201).attr("height", 137).attr("rx", 8)
  .attr("fill", "#fff").attr("stroke", "#d6d6d6").attr("stroke-width", 1.2);
const legColX = [227, 547.5, 867.7, 1189];
const legRowY = [22.7, 84];
[legendRow1, legendRow2].forEach((row, ri) => {
  row.forEach((name, ci) => {
    const x0 = legColX[ci], y0 = legRowY[ri];
    if (name === "BLP") {
      leg.append("line").attr("x1", x0).attr("x2", x0 + 83).attr("y1", y0 + 16).attr("y2", y0 + 16)
        .attr("stroke", "#808080").attr("stroke-width", 2.6).attr("stroke-dasharray", "5,3");
      leg.append("text").attr("x", x0 + 122.6).attr("y", y0 + 31.5).attr("font-size", 44)
        .attr("font-family", serif).text(name);
    } else {
      leg.append("rect").attr("x", x0).attr("y", y0).attr("width", 90).attr("height", 32)
        .attr("fill", tracerColor[name]).attr("fill-opacity", 0.8);
      leg.append("text").attr("x", x0 + 126).attr("y", y0 + 31.5).attr("font-size", 44)
        .attr("font-family", serif).text(name);
    }
  });
});
</script>
</body>
</html>
